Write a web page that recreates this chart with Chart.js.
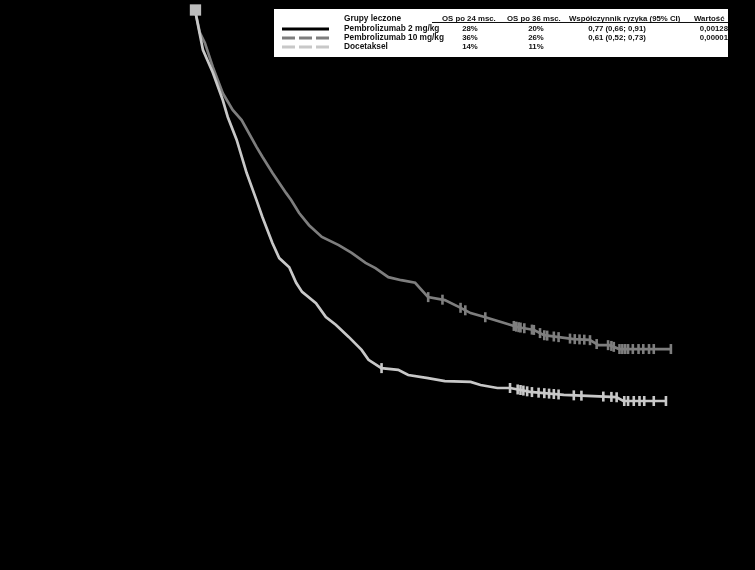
<!DOCTYPE html>
<html>
<head>
<meta charset="utf-8">
<script src="https://cdn.jsdelivr.net/npm/chart.js@4"></script>
<style>
html,body{margin:0;padding:0;background:#000;}
#wrap{width:755px;height:570px;}
</style>
</head>
<body>
<div id="wrap"><canvas id="c" width="755" height="570"></canvas></div>
<script>
// ---- Data (months, % survival) ----
const seriesNames = ["Pembrolizumab 2 mg/kg", "Pembrolizumab 10 mg/kg", "Docetaksel"];

// Pembrolizumab 2 mg/kg (black curve, not visible on the black background – estimated)
const monthsP2 = [0, 1, 2, 3, 4.5, 6, 7.5, 9, 10.5, 12, 13.5, 15, 16.5, 18, 19.5, 21, 22.5, 24, 26, 28, 30, 32, 34, 36, 38, 40, 43, 46, 49.5];
const survP2   = [100, 92, 85, 79, 74, 68, 63, 58, 54, 51, 48, 45, 42, 39, 36, 34, 31, 29, 27, 25, 24, 22.5, 21, 20, 19.5, 19, 18.5, 18, 18];

// Pembrolizumab 10 mg/kg (dark grey)
const monthsP10 = [0, 0.52, 1.04, 1.88, 2.92, 3.96, 4.9, 6.46, 7.08, 8.13, 9.58, 10.1, 10.94, 11.98, 13.33, 15.1, 16.46, 17.92, 18.96, 20.31, 21.67, 23.13, 24.48, 26.25, 27.92, 28.96, 30.42, 32.5, 33.85, 35.63, 36.67, 38.02, 39.79, 41.46, 42.4, 43.54, 44.58, 50.0];
const survP10   = [100, 94.7, 92.4, 86.8, 80.8, 76.9, 74.6, 68.4, 66.1, 62.4, 57.7, 56.1, 53.1, 50.3, 47.6, 45.7, 43.9, 41.6, 40.4, 38.3, 37.6, 37.0, 33.7, 33.0, 31.2, 30.0, 29.1, 27.7, 26.8, 26.1, 24.9, 24.5, 24.0, 23.8, 22.6, 22.6, 21.7, 21.7];
const censorP10 = [24.5, 26.0, 27.9, 28.4, 30.5, 33.5, 33.75, 34.0, 34.2, 34.6, 35.4, 35.6, 36.25, 36.7, 37.0, 37.7, 38.2, 39.4, 39.9, 40.4, 40.9, 41.5, 42.2, 43.4, 43.75, 44.0, 44.6, 44.9, 45.2, 45.5, 46.0, 46.6, 47.1, 47.7, 48.2, 50.0];

// Docetaksel (light grey)
const monthsDoc = [0, 0.83, 1.88, 2.92, 3.44, 4.38, 5.42, 6.46, 7.08, 8.13, 8.85, 9.9, 10.63, 11.25, 12.71, 13.75, 14.79, 16.15, 17.5, 18.23, 19.58, 21.35, 22.4, 24.48, 26.25, 28.96, 30.0, 31.77, 33.13, 35.21, 38.75, 44.27, 45.0, 49.48];
const survDoc   = [100, 90.8, 85.5, 79.2, 75.3, 70.0, 62.4, 56.1, 52.2, 46.2, 42.7, 40.6, 37.0, 34.9, 32.3, 29.1, 27.3, 24.5, 21.5, 19.2, 17.3, 16.9, 15.7, 15.0, 14.3, 14.1, 13.4, 12.7, 12.7, 11.8, 11.1, 10.6, 9.7, 9.7];
const censorDoc = [19.6, 33.1, 33.9, 34.2, 34.5, 34.9, 35.4, 36.1, 36.7, 37.2, 37.7, 38.2, 39.8, 40.6, 42.9, 43.75, 44.3, 45.1, 45.5, 46.1, 46.7, 47.2, 48.2, 49.48];

// Legend table
const tableHeader = ["Grupy leczone", "OS po 24 msc.", "OS po 36 msc.", "Współczynnik ryzyka (95% CI)", "Wartość"];
const os24 = ["28%", "36%", "14%"];
const os36 = ["20%", "26%", "11%"];
const hazardRatio = ["0,77 (0,66; 0,91)", "0,61 (0,52; 0,73)", ""];
const pValue = ["0,00128", "0,00001", ""];

// ---- Styles ----
const colP2 = "#000000", colP10 = "#7e7e7e", colDoc = "#c8c8c8";

// place a censor mark on the drawn curve at time t
function onCurve(ms, ss, t) {
  for (let i = 1; i < ms.length; i++) {
    if (t <= ms[i]) {
      const f = (t - ms[i - 1]) / (ms[i] - ms[i - 1]);
      return ss[i - 1] + f * (ss[i] - ss[i - 1]);
    }
  }
  return ss[ss.length - 1];
}
const toXY = (ms, ss) => ms.map((m, i) => ({x: m, y: ss[i]}));
const censorXY = (cs, ms, ss) => cs.map(t => ({x: t, y: onCurve(ms, ss, t)}));

const curveDs = (label, ms, ss, col, ord) => ({
  type: 'line', label, data: toXY(ms, ss), borderColor: col, backgroundColor: col,
  borderWidth: 2.7, tension: 0, pointRadius: 0, fill: false, clip: false, order: ord
});
const censorDs = (label, pts, col) => ({
  type: 'scatter', label, data: pts, borderColor: col, backgroundColor: col,
  pointStyle: 'line', rotation: 90, pointRadius: 5, borderWidth: 2.6, showLine: false, clip: false, order: 1
});

const legendPlugin = {
  id: 'kmLegend',
  afterDraw(chart) {
    const ctx = chart.ctx;
    ctx.save();
    const bx = 274, by = 9, bw = 454, bh = 48;
    ctx.fillStyle = '#ffffff';
    ctx.fillRect(bx, by, bw, bh);
    ctx.beginPath(); ctx.rect(bx, by, bw, bh); ctx.clip();
    const rowsY = [29, 38, 47];
    const cols = [colP2, colP10, colDoc];
    for (let i = 0; i < 3; i++) {
      ctx.strokeStyle = cols[i]; ctx.lineWidth = 2.8;
      ctx.setLineDash(i === 0 ? [] : [13, 4]);
      ctx.beginPath(); ctx.moveTo(282, rowsY[i]); ctx.lineTo(329, rowsY[i]); ctx.stroke();
    }
    ctx.setLineDash([]);
    ctx.fillStyle = '#111';
    ctx.font = "bold 8.3px 'Liberation Sans', Arial, sans-serif";
    ctx.textBaseline = 'middle';
    ctx.textAlign = 'left';
    ctx.fillText(tableHeader[0], 344, 18.5);
    ctx.font = "bold 7.8px 'Liberation Sans', Arial, sans-serif";
    ctx.fillText(tableHeader[1], 442, 18.5);
    ctx.fillText(tableHeader[2], 507, 18.5);
    ctx.fillText(tableHeader[3], 569, 18.5);
    ctx.fillText(tableHeader[4], 694, 18.5);
    ctx.strokeStyle = '#111'; ctx.lineWidth = 1;
    ctx.beginPath(); ctx.moveTo(432, 22.5); ctx.lineTo(728, 22.5); ctx.stroke();
    for (let i = 0; i < 3; i++) {
      const y = rowsY[i];
      ctx.font = "bold 8.3px 'Liberation Sans', Arial, sans-serif";
      ctx.textAlign = 'left';
      ctx.fillText(seriesNames[i], 344, y);
      ctx.font = "bold 7.8px 'Liberation Sans', Arial, sans-serif";
      ctx.textAlign = 'center';
      ctx.fillText(os24[i], 470, y);
      ctx.fillText(os36[i], 536, y);
      ctx.fillText(hazardRatio[i], 617, y);
      ctx.textAlign = 'right';
      ctx.fillText(pValue[i], 728, y);
    }
    ctx.restore();
  }
};

new Chart(document.getElementById('c'), {
  data: {
    datasets: [
      curveDs(seriesNames[0], monthsP2, survP2, colP2, 5),
      curveDs(seriesNames[1], monthsP10, survP10, colP10, 3),
      curveDs(seriesNames[2], monthsDoc, survDoc, colDoc, 2),
      censorDs(seriesNames[1] + ' (cenzurowane)', censorXY(censorP10, monthsP10, survP10), colP10),
      censorDs(seriesNames[2] + ' (cenzurowane)', censorXY(censorDoc, monthsDoc, survDoc), colDoc),
      { type: 'scatter', label: 'start', data: [{x: 0.05, y: 100}], pointStyle: 'rect', pointRadius: 8,
        backgroundColor: '#bdbdbd', borderColor: '#bdbdbd', borderWidth: 0, clip: false, order: 0 }
    ]
  },
  options: {
    responsive: false,
    animation: false,
    events: [],
    layout: { padding: { left: 195, right: 27, top: 10, bottom: 127 } },
    plugins: { legend: { display: false }, tooltip: { enabled: false }, title: { display: false } },
    scales: {
      x: { type: 'linear', min: 0, max: 56, display: false },
      y: { type: 'linear', min: 0, max: 100, display: false }
    }
  },
  plugins: [legendPlugin]
});
</script>
</body>
</html>
